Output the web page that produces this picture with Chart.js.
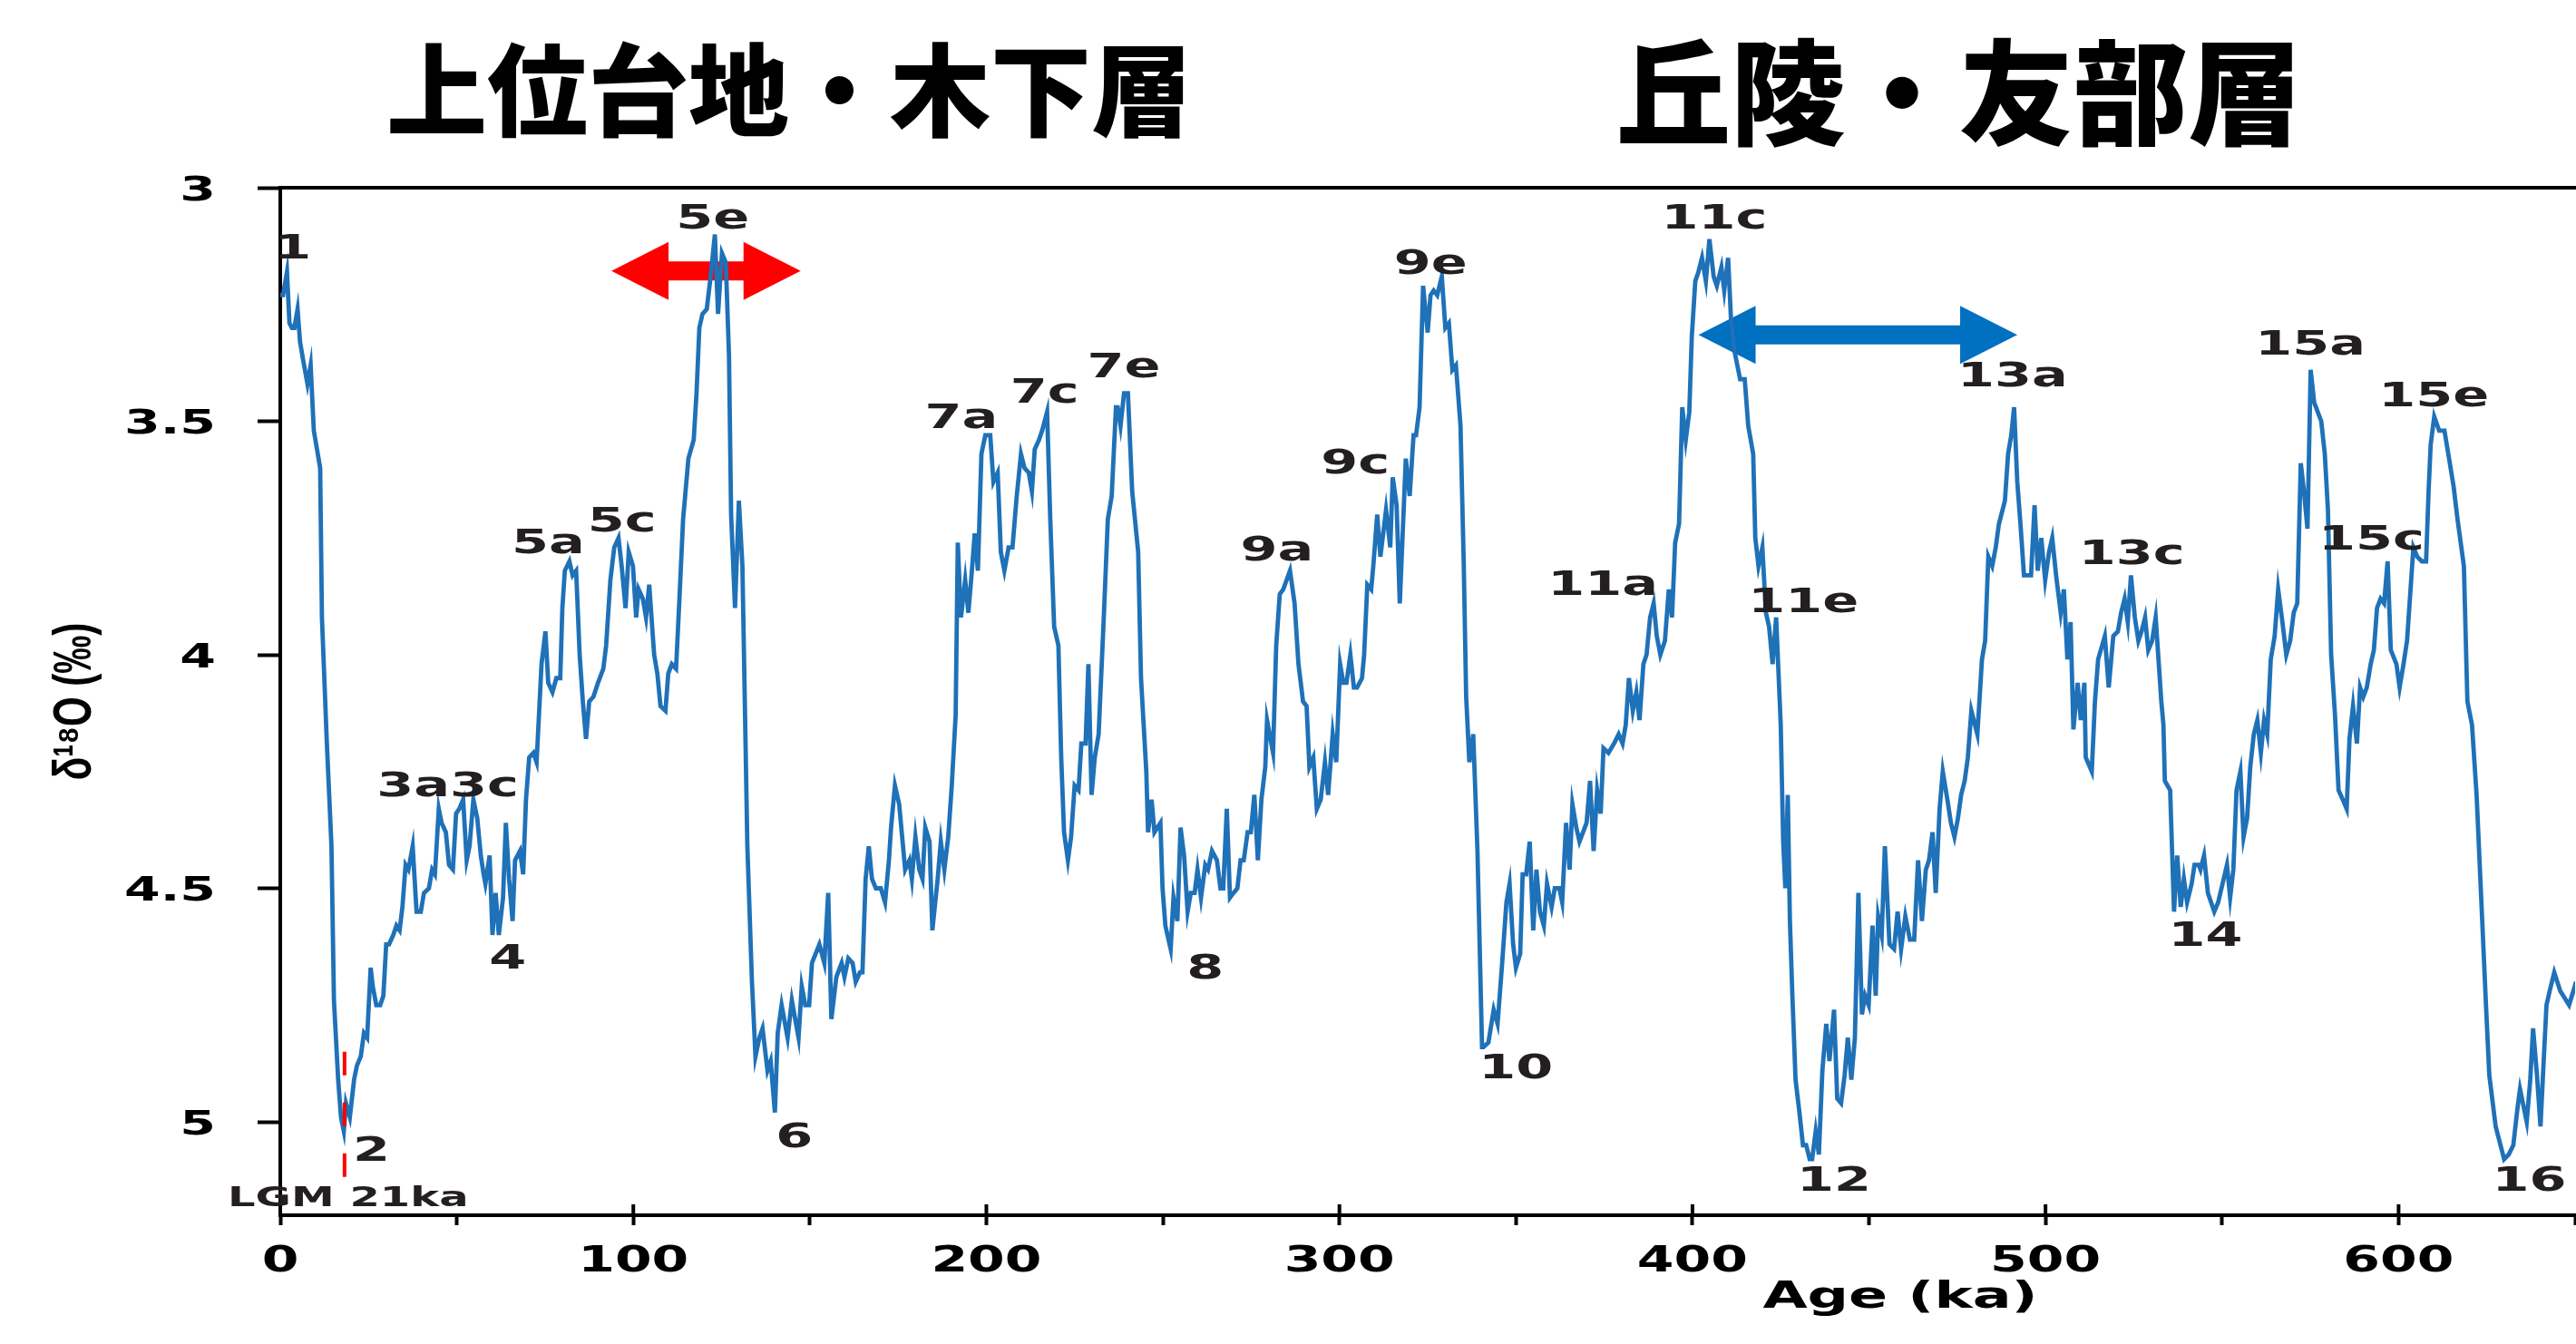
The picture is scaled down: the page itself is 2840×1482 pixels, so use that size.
<!DOCTYPE html>
<html>
<head>
<meta charset="utf-8">
<script src="https://cdn.jsdelivr.net/npm/chart.js@4.4.1/dist/chart.umd.min.js"></script>
<style>
  html, body { margin: 0; padding: 0; background: #fff; }
  canvas { display: block; }
</style>
</head>
<body>
<canvas id="isotopeChart" width="2840" height="1482"></canvas>
<script>
// age (ka) and benthic d18O (permil)
const ages = [
  0, 0.8, 1.9, 2.6, 3.3, 4.0, 4.9, 5.6, 6.5, 7.7,
  8.6, 9.5, 11.3, 11.8, 13.2, 14.5, 15.2, 16.4, 17.2, 18.0,
  18.6, 19.7, 20.9, 21.7, 22.8, 23.7, 24.6, 25.6, 26.2, 27.2,
  28.3, 29.2, 30.0, 30.8, 32.0, 32.9, 33.8, 34.6, 35.5, 36.3,
  37.5, 38.6, 39.8, 40.7, 42.1, 43.0, 43.8, 44.9, 45.7, 46.9,
  47.8, 48.9, 49.8, 50.7, 51.8, 52.8, 53.6, 54.7, 55.8, 56.8,
  57.6, 58.1, 59.3, 60.1, 61.0, 61.9, 63.1, 63.9, 64.8, 65.8,
  66.5, 67.9, 68.8, 69.6, 70.5, 71.7, 72.6, 74.0, 75.1, 75.9,
  77.1, 78.2, 79.3, 79.9, 80.6, 81.9, 82.8, 83.8, 84.8, 85.7,
  86.6, 87.5, 88.7, 90.0, 91.5, 92.3, 93.5, 94.6, 95.8, 96.7,
  97.8, 98.7, 99.9, 100.8, 101.5, 102.7, 103.6, 104.5, 105.9, 106.8,
  107.7, 109.1, 109.9, 110.9, 112.1, 113.0, 114.1, 115.6, 117.1, 117.9,
  118.7, 119.6, 120.8, 121.9, 123.1, 124.0, 125.1, 126.2, 127.1, 127.7,
  128.8, 129.9, 130.9, 132.3, 133.6, 134.6, 135.7, 136.6, 138.0, 138.9,
  140.1, 140.9, 142.0, 143.7, 144.9, 146.8, 147.7, 148.7, 149.8, 150.6,
  152.7, 154.1, 155.2, 156.1, 157.5, 159.0, 159.8, 160.9, 162.1, 163.0,
  164.2, 164.9, 165.8, 166.7, 167.6, 168.7, 170.1, 171.3, 172.4, 173.0,
  174.1, 175.3, 177.0, 178.2, 178.9, 179.9, 181.0, 181.9, 182.7, 183.9,
  184.7, 186.2, 187.1, 188.1, 189.2, 190.2, 191.3, 191.9, 192.8, 194.0,
  194.9, 195.9, 196.7, 197.6, 198.6, 199.7, 201.1, 202.0, 203.2, 204.1,
  205.1, 206.3, 207.4, 208.6, 209.8, 210.8, 212.0, 212.9, 213.7, 214.9,
  215.8, 217.2, 218.1, 219.2, 220.4, 221.2, 222.0, 223.1, 224.0, 225.0,
  226.1, 226.9, 228.1, 228.9, 229.8, 230.7, 231.8, 233.2, 234.4, 235.5,
  236.7, 237.2, 238.0, 239.0, 240.1, 241.3, 243.0, 243.8, 244.7, 245.3,
  245.8, 246.8, 247.6, 249.3, 249.9, 250.7, 252.2, 253.0, 254.1, 255.0,
  256.0, 257.0, 257.9, 259.0, 259.8, 260.8, 262.0, 262.8, 263.9, 265.3,
  266.3, 267.1, 268.1, 269.0, 270.0, 271.1, 272.0, 272.9, 274.0, 274.9,
  275.9, 276.9, 277.9, 279.0, 279.5, 281.2, 282.1, 283.1, 284.1, 286.0,
  287.3, 288.4, 289.7, 290.7, 291.5, 292.6, 293.6, 294.7, 295.9, 296.8,
  298.1, 299.1, 300.2, 301.1, 302.0, 303.1, 304.1, 305.0, 306.4, 307.0,
  307.9, 309.0, 309.6, 310.7, 311.6, 313.2, 314.4, 315.1, 316.2, 317.1,
  318.8, 319.9, 321.0, 321.7, 322.7, 323.7, 325.0, 325.8, 326.7, 327.7,
  329.0, 330.0, 331.0, 332.0, 333.0, 334.3, 335.2, 335.9, 336.8, 337.9,
  339.1, 340.4, 340.8, 342.2, 343.7, 344.8, 346.1, 347.3, 348.2, 349.2,
  350.0, 351.2, 351.9, 352.9, 353.9, 354.9, 355.8, 356.8, 357.9, 358.8,
  360.1, 361.0, 362.3, 363.1, 364.2, 365.2, 366.0, 367.1, 368.0, 370.0,
  371.0, 372.0, 373.0, 374.0, 374.8, 376.2, 377.8, 379.1, 380.2, 381.1,
  382.0, 383.1, 384.1, 385.0, 386.1, 387.0, 388.0, 389.0, 389.9, 390.9,
  392.2, 393.3, 394.2, 395.1, 396.2, 397.1, 398.1, 399.1, 399.8, 400.8,
  401.7, 402.7, 403.8, 404.8, 406.0, 406.9, 408.2, 409.0, 410.1, 410.9,
  411.9, 413.5, 414.8, 415.8, 417.2, 417.8, 418.7, 419.8, 420.8, 421.7,
  422.7, 423.7, 425.0, 425.7, 426.3, 427.0, 427.6, 428.3, 429.2, 430.3,
  431.3, 432.2, 433.2, 433.9, 434.9, 435.8, 436.8, 437.9, 438.8, 440.1,
  441.0, 442.1, 443.1, 444.0, 445.0, 446.0, 447.0, 448.0, 448.9, 449.9,
  451.0, 451.9, 452.6, 453.6, 454.5, 455.8, 457.1, 458.1, 459.1, 460.3,
  461.6, 462.8, 463.9, 465.0, 466.1, 467.0, 468.0, 468.9, 470.0, 470.9,
  472.2, 473.2, 474.2, 475.2, 476.1, 477.1, 478.0, 479.0, 480.7, 482.0,
  482.9, 483.8, 484.9, 485.9, 486.8, 488.5, 489.4, 490.3, 491.1, 492.0,
  492.9, 493.9, 495.9, 496.9, 497.8, 498.8, 499.9, 501.0, 501.9, 503.0,
  504.3, 505.2, 506.2, 507.1, 507.9, 509.1, 510.0, 511.0, 511.4, 513.1,
  514.0, 514.9, 516.8, 517.9, 519.2, 520.5, 521.4, 522.4, 523.3, 524.2,
  525.3, 526.3, 527.2, 528.2, 529.1, 530.2, 531.2, 532.8, 533.4, 533.8,
  535.3, 536.4, 537.3, 538.3, 539.2, 540.1, 541.4, 542.2, 543.4, 543.9,
  544.9, 546.0, 547.8, 548.9, 551.4, 552.3, 553.2, 554.1, 555.2, 556.1,
  557.1, 558.0, 559.0, 560.0, 561.0, 561.9, 562.8, 563.8, 564.9, 565.9,
  567.1, 568.2, 569.3, 570.3, 571.3, 572.3, 573.2, 574.2, 575.1, 576.1,
  578.1, 579.1, 580.0, 580.9, 582.0, 583.0, 584.2, 585.3, 586.1, 587.1,
  588.2, 589.1, 590.0, 591.0, 592.1, 593.0, 593.9, 594.9, 595.9, 596.9,
  597.8, 599.4, 600.3, 601.4, 602.4, 604.2, 605.3, 606.6, 607.8, 608.5,
  609.1, 610.1, 611.5, 613.0, 614.3, 615.6, 616.7, 618.5, 619.5, 620.8,
  622.1, 623.7, 624.7, 625.7, 627.5, 629.9, 631.2, 632.5, 633.7, 634.4,
  636.3, 637.3, 638.1, 639.2, 640.2, 641.1, 641.9, 642.8, 644.1, 645.8,
  648.3, 650.3
];
const d18O = [
  3.23, 3.23, 3.18, 3.29, 3.30, 3.30, 3.26, 3.33, 3.37, 3.42,
  3.38, 3.52, 3.60, 3.92, 4.19, 4.41, 4.74, 4.91, 4.99, 5.02,
  4.96, 4.99, 4.91, 4.88, 4.86, 4.81, 4.82, 4.67, 4.71, 4.75,
  4.75, 4.73, 4.62, 4.62, 4.60, 4.58, 4.59, 4.54, 4.45, 4.46,
  4.41, 4.55, 4.55, 4.51, 4.50, 4.46, 4.47, 4.33, 4.36, 4.38,
  4.45, 4.46, 4.34, 4.33, 4.31, 4.44, 4.41, 4.31, 4.35, 4.43,
  4.47, 4.49, 4.43, 4.60, 4.51, 4.60, 4.52, 4.36, 4.48, 4.57,
  4.44, 4.42, 4.47, 4.31, 4.22, 4.21, 4.23, 4.02, 3.95, 4.06,
  4.08, 4.05, 4.05, 3.90, 3.82, 3.80, 3.83, 3.82, 4.00, 4.10,
  4.18, 4.10, 4.09, 4.06, 4.03, 3.98, 3.84, 3.77, 3.75, 3.81,
  3.90, 3.78, 3.81, 3.92, 3.86, 3.88, 3.92, 3.85, 4.00, 4.04,
  4.11, 4.12, 4.04, 4.02, 4.03, 3.89, 3.71, 3.58, 3.54, 3.44,
  3.30, 3.27, 3.26, 3.19, 3.10, 3.27, 3.14, 3.16, 3.36, 3.70,
  3.90, 3.67, 3.81, 4.41, 4.70, 4.86, 4.82, 4.80, 4.89, 4.87,
  4.98, 4.81, 4.75, 4.82, 4.74, 4.82, 4.71, 4.75, 4.75, 4.66,
  4.62, 4.66, 4.51, 4.78, 4.69, 4.66, 4.69, 4.65, 4.66, 4.70,
  4.68, 4.68, 4.48, 4.41, 4.48, 4.50, 4.50, 4.53, 4.44, 4.37,
  4.28, 4.32, 4.46, 4.44, 4.48, 4.39, 4.46, 4.48, 4.37, 4.40,
  4.59, 4.48, 4.40, 4.46, 4.39, 4.28, 4.13, 3.76, 3.92, 3.84,
  3.91, 3.82, 3.74, 3.82, 3.57, 3.53, 3.53, 3.63, 3.61, 3.78,
  3.82, 3.77, 3.77, 3.66, 3.57, 3.60, 3.61, 3.65, 3.56, 3.54,
  3.52, 3.48, 3.71, 3.94, 3.98, 4.22, 4.38, 4.44, 4.39, 4.28,
  4.29, 4.19, 4.19, 4.02, 4.30, 4.22, 4.17, 3.93, 3.71, 3.66,
  3.47, 3.47, 3.51, 3.44, 3.44, 3.65, 3.78, 4.05, 4.17, 4.25,
  4.38, 4.31, 4.38, 4.36, 4.50, 4.58, 4.63, 4.52, 4.57, 4.37,
  4.43, 4.55, 4.51, 4.51, 4.46, 4.52, 4.45, 4.46, 4.42, 4.44,
  4.50, 4.50, 4.33, 4.52, 4.51, 4.50, 4.44, 4.44, 4.38, 4.38,
  4.30, 4.44, 4.31, 4.24, 4.14, 4.21, 3.98, 3.87, 3.86, 3.82,
  3.89, 4.02, 4.10, 4.11, 4.24, 4.22, 4.33, 4.31, 4.23, 4.30,
  4.17, 4.23, 4.02, 4.06, 4.06, 4.00, 4.07, 4.07, 4.05, 4.00,
  3.85, 3.86, 3.81, 3.70, 3.79, 3.69, 3.77, 3.62, 3.68, 3.89,
  3.58, 3.66, 3.53, 3.53, 3.47, 3.21, 3.31, 3.23, 3.22, 3.23,
  3.19, 3.30, 3.29, 3.39, 3.38, 3.51, 3.80, 4.09, 4.23, 4.17,
  4.42, 4.84, 4.84, 4.83, 4.76, 4.79, 4.66, 4.53, 4.49, 4.62,
  4.67, 4.64, 4.47, 4.47, 4.40, 4.59, 4.46, 4.55, 4.58, 4.49,
  4.54, 4.50, 4.50, 4.53, 4.36, 4.46, 4.32, 4.37, 4.40, 4.36,
  4.27, 4.42, 4.29, 4.34, 4.20, 4.21, 4.19, 4.17, 4.19, 4.15,
  4.05, 4.12, 4.08, 4.14, 4.02, 4.00, 3.92, 3.89, 3.96, 4.00,
  3.97, 3.86, 3.92, 3.76, 3.72, 3.47, 3.54, 3.48, 3.32, 3.20,
  3.18, 3.15, 3.20, 3.11, 3.19, 3.21, 3.17, 3.22, 3.15, 3.28,
  3.35, 3.41, 3.41, 3.51, 3.57, 3.75, 3.81, 3.77, 3.91, 3.94,
  4.02, 3.92, 4.15, 4.40, 4.50, 4.30, 4.57, 4.73, 4.91, 4.98,
  5.05, 5.05, 5.08, 5.08, 5.02, 5.07, 4.89, 4.79, 4.87, 4.76,
  4.95, 4.96, 4.90, 4.82, 4.91, 4.82, 4.51, 4.77, 4.73, 4.75,
  4.58, 4.73, 4.56, 4.60, 4.41, 4.62, 4.63, 4.55, 4.63, 4.56,
  4.61, 4.61, 4.44, 4.57, 4.46, 4.44, 4.38, 4.51, 4.33, 4.25,
  4.31, 4.36, 4.39, 4.35, 4.30, 4.27, 4.22, 4.12, 4.17, 4.01,
  3.97, 3.79, 3.81, 3.77, 3.72, 3.67, 3.57, 3.53, 3.47, 3.63,
  3.72, 3.83, 3.83, 3.68, 3.82, 3.75, 3.84, 3.78, 3.75, 3.83,
  3.91, 3.86, 4.01, 3.93, 4.16, 4.06, 4.14, 4.06, 4.22, 4.25,
  4.10, 4.01, 3.96, 4.07, 3.96, 3.95, 3.91, 3.88, 3.93, 3.83,
  3.92, 3.97, 3.95, 3.92, 3.99, 3.97, 3.92, 4.10, 4.15, 4.27,
  4.29, 4.55, 4.43, 4.54, 4.48, 4.53, 4.49, 4.45, 4.45, 4.46,
  4.43, 4.51, 4.55, 4.53, 4.45, 4.52, 4.46, 4.29, 4.25, 4.39,
  4.35, 4.24, 4.17, 4.14, 4.21, 4.14, 4.17, 4.01, 3.96, 3.86,
  3.93, 4.00, 3.97, 3.91, 3.89, 3.59, 3.65, 3.73, 3.39, 3.46,
  3.50, 3.57, 3.69, 4.00, 4.13, 4.29, 4.31, 4.33, 4.18, 4.11,
  4.19, 4.07, 4.09, 4.07, 4.02, 3.99, 3.90, 3.88, 3.89, 3.80,
  3.99, 4.02, 4.07, 4.02, 3.97, 3.77, 3.79, 3.80, 3.80, 3.65,
  3.55, 3.49, 3.52, 3.52, 3.58, 3.64, 3.71, 3.81, 4.10, 4.15,
  4.30, 4.57, 4.74, 4.90, 5.01, 5.08, 5.07, 5.05, 4.97, 4.93,
  5.00, 4.91, 4.80, 4.90, 5.01, 4.87, 4.75, 4.72, 4.68, 4.72,
  4.75, 4.70
];

// axis ticks
const xTickValues = [0, 50, 100, 150, 200, 250, 300, 350, 400, 450, 500, 550, 600, 650];
const xLabelValues = [0, 100, 200, 300, 400, 500, 600];
const yTickValues = [3, 3.5, 4, 4.5, 5];

// marine isotope stage labels, anchored in (ka, d18O)
const stageNames = ['1', '2', '3a3c', '4', '5a', '5c', '5e', '6', '7a', '7c', '7e', '8', '9a', '9c',
  '9e', '10', '11a', '11c', '11e', '12', '13a', '13c', '14', '15a', '15c', '15e', '16'];
const stageAges = [3.5, 25.8, 47.4, 64.4, 75.9, 96.8, 122.5, 145.6, 192.9, 216.5, 238.9, 262.0, 282.3, 304.5,
  325.8, 350.0, 374.6, 406.2, 431.4, 440.1, 490.7, 524.4, 545.3, 575.0, 592.3, 610.0, 637.0];
const stageValues = [3.125, 5.057, 4.276, 4.645, 3.756, 3.709, 3.06, 5.028, 3.488, 3.434, 3.379, 4.666, 3.771, 3.585,
  3.158, 4.88, 3.844, 3.061, 3.881, 5.12, 3.398, 3.779, 4.597, 3.33, 3.748, 3.441, 5.121];

// LGM marker
const lgmAge = 18.2;
const lgmRange = [4.85, 5.12];
const lgmLabel = { text: 'LGM 21ka', age: 19.2, value: 5.16 };

// double arrows: span in ka at a d18O level
const arrows = [
  { from: 93.8, to: 147.4, value: 3.178, color: '#ff0000' },
  { from: 401.7, to: 492.0, value: 3.315, color: '#0070c0' }
];

const titles = [
  { text: '上位台地・木下層', x: 870, y: 100, size: 111 },
  { text: '丘陵・友部層', x: 2160, y: 102, size: 126 }
];

function wideText(ctx, str, x, y, size, align, sx) {
  ctx.save();
  ctx.font = 'bold ' + size + 'px "DejaVu Sans"';
  ctx.textAlign = align;
  ctx.textBaseline = 'alphabetic';
  ctx.translate(x, y + size * 0.365);
  ctx.scale(sx, 1);
  ctx.fillText(str, 0, 0);
  ctx.restore();
}

function doubleArrow(ctx, x1, x2, y, color) {
  const head = 63, half = 32, shaft = 10.5;
  ctx.save();
  ctx.fillStyle = color;
  ctx.beginPath();
  ctx.moveTo(x1, y);
  ctx.lineTo(x1 + head, y - half);
  ctx.lineTo(x1 + head, y - shaft);
  ctx.lineTo(x2 - head, y - shaft);
  ctx.lineTo(x2 - head, y - half);
  ctx.lineTo(x2, y);
  ctx.lineTo(x2 - head, y + half);
  ctx.lineTo(x2 - head, y + shaft);
  ctx.lineTo(x1 + head, y + shaft);
  ctx.lineTo(x1 + head, y + half);
  ctx.closePath();
  ctx.fill();
  ctx.restore();
}

const overlay = {
  id: 'overlay',
  beforeDatasetsDraw(chart) {
    const { ctx, scales: { x, y } } = chart;
    arrows.forEach(a => {
      doubleArrow(ctx, x.getPixelForValue(a.from), x.getPixelForValue(a.to), y.getPixelForValue(a.value), a.color);
    });
  },
  afterDraw(chart) {
    const { ctx, scales: { x, y } } = chart;

    // major x ticks also poke inside the frame
    ctx.save();
    ctx.strokeStyle = '#000';
    ctx.lineWidth = 4;
    xLabelValues.forEach(v => {
      const px = x.getPixelForValue(v);
      ctx.beginPath();
      ctx.moveTo(px, x.top);
      ctx.lineTo(px, x.top - 12);
      ctx.stroke();
    });
    ctx.restore();

    ctx.fillStyle = '#000';
    xLabelValues.forEach(v => wideText(ctx, String(v), x.getPixelForValue(v), x.top + 48, 39, 'center', 1.5));
    yTickValues.forEach(v => wideText(ctx, String(v), y.right - 71, y.getPixelForValue(v), 38, 'right', 1.5));
    wideText(ctx, 'Age (ka)', 2095, x.top + 87, 41, 'center', 1.55);

    // y axis title, a bit heavier than the library title allows
    ctx.save();
    ctx.translate(84, (y.top + y.bottom) / 2);
    ctx.rotate(-Math.PI / 2);
    ctx.scale(1, 1.4);
    ctx.font = 'bold 42px "Liberation Sans", "DejaVu Sans"';
    ctx.textAlign = 'center';
    ctx.textBaseline = 'middle';
    ctx.fillText('δ¹⁸O (‰)', 0, 0);
    ctx.restore();

    ctx.fillStyle = '#231f20';
    stageNames.forEach((name, i) => {
      wideText(ctx, name, x.getPixelForValue(stageAges[i]), y.getPixelForValue(stageValues[i]), 38, 'center', 1.55);
    });
    wideText(ctx, lgmLabel.text, x.getPixelForValue(lgmLabel.age), y.getPixelForValue(lgmLabel.value), 30, 'center', 1.6);

    ctx.save();
    ctx.fillStyle = '#000';
    ctx.textAlign = 'center';
    ctx.textBaseline = 'middle';
    titles.forEach(t => {
      ctx.font = '900 ' + t.size + 'px "Noto Sans CJK JP"';
      ctx.fillText(t.text, t.x, t.y);
    });
    ctx.restore();
  }
};

const canvas = document.getElementById('isotopeChart');
new Chart(canvas, {
  type: 'line',
  data: {
    datasets: [
      {
        label: 'δ18O',
        data: ages.map((a, i) => ({ x: a, y: d18O[i] })),
        borderColor: '#1f71b8',
        borderWidth: 4.8,
        pointRadius: 0,
        tension: 0,
        fill: false,
        order: 1
      },
      {
        label: 'LGM',
        data: lgmRange.map(v => ({ x: lgmAge, y: v })),
        borderColor: '#ff0000',
        borderWidth: 4,
        borderDash: [26, 30],
        pointRadius: 0,
        fill: false,
        order: 0
      }
    ]
  },
  options: {
    responsive: false,
    animation: false,
    devicePixelRatio: 1,
    layout: { padding: { top: 207, right: 1, left: 0, bottom: 0 }, autoPadding: false },
    plugins: { legend: { display: false }, tooltip: { enabled: false } },
    scales: {
      x: {
        type: 'linear',
        position: 'bottom',
        min: 0,
        max: 650,
        afterBuildTicks: s => { s.ticks = xTickValues.map(v => ({ value: v })); },
        ticks: { display: false },
        grid: { drawOnChartArea: false, drawTicks: true, tickLength: 11, tickWidth: 4, color: '#000' },
        border: { display: true, color: '#000', width: 4 },
        afterFit: s => { s.height = 142; }
      },
      x2: {
        type: 'linear',
        position: 'top',
        min: 0,
        max: 650,
        ticks: { display: false },
        grid: { display: false },
        border: { display: true, color: '#000', width: 4 },
        afterFit: s => { s.height = 0; }
      },
      y: {
        type: 'linear',
        reverse: true,
        min: 3,
        max: 5.2,
        afterBuildTicks: s => { s.ticks = yTickValues.map(v => ({ value: v })); },
        ticks: { display: false },
        grid: { drawOnChartArea: false, drawTicks: true, tickLength: 25, tickWidth: 4, color: '#000' },
        border: { display: true, color: '#000', width: 4 },
        afterFit: s => { s.width = 309; }
      }
    }
  },
  plugins: [overlay]
});
</script>
</body>
</html>
